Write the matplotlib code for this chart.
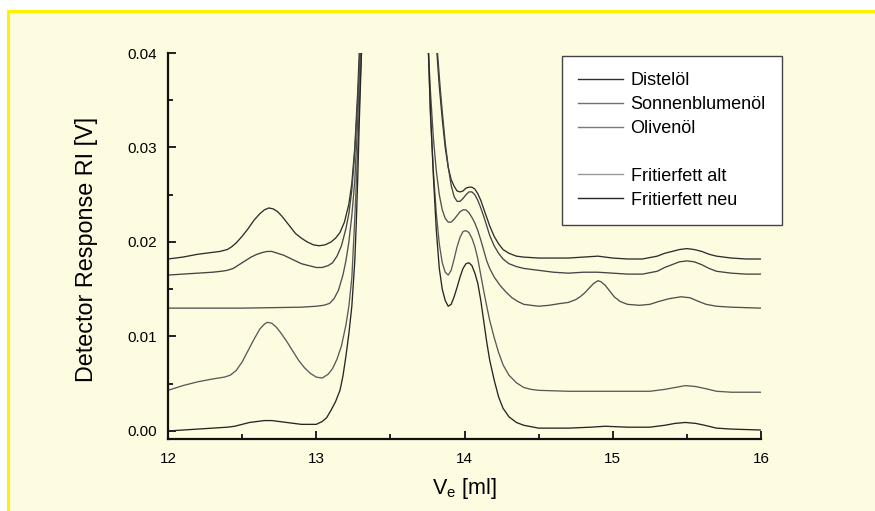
import matplotlib.pyplot as plt
from matplotlib.lines import Line2D
from matplotlib.patches import Rectangle
from matplotlib.ticker import MultipleLocator, FormatStrFormatter

plt.rcParams["font.family"] = ["Liberation Sans", "DejaVu Sans"]
plt.rcParams["mathtext.default"] = "regular"

# =============================================================================
# DATA
# =============================================================================

LABELS = ["Distelöl", "Sonnenblumenöl", "Olivenöl", "Fritierfett alt", "Fritierfett neu"]

x_distel = [12.0, 12.1, 12.2, 12.3, 12.35, 12.4, 12.43, 12.46, 12.5, 12.54, 12.58,
            12.62, 12.65, 12.68, 12.71, 12.74, 12.77, 12.8, 12.83, 12.86, 12.9, 12.94,
            12.98, 13.02, 13.06, 13.1, 13.13, 13.16, 13.19, 13.22, 13.24, 13.26, 13.28,
            13.29, 13.31,
            13.8, 13.814, 13.83, 13.85, 13.87, 13.89, 13.91, 13.93, 13.95, 13.97,
            13.99, 14.01, 14.03, 14.05, 14.07, 14.09, 14.11, 14.13, 14.15, 14.17,
            14.2, 14.23, 14.26, 14.3, 14.35, 14.4, 14.5, 14.6, 14.7, 14.8, 14.9,
            15.0, 15.1, 15.2, 15.3, 15.35, 15.4, 15.45, 15.5, 15.55, 15.6, 15.65,
            15.7, 15.8, 15.9, 16.0]
y_distel = [0.0182, 0.0184, 0.0187, 0.0189, 0.0190, 0.0192, 0.0195, 0.0199, 0.0206,
            0.0214, 0.0223, 0.0230, 0.0234, 0.0236, 0.0235, 0.0232, 0.0227, 0.0221,
            0.0215, 0.0209, 0.0204, 0.0200, 0.0197, 0.0196, 0.0197, 0.0200, 0.0204,
            0.0210, 0.0221, 0.0240, 0.0262, 0.0300, 0.0360, 0.0400, 0.0500,
            0.0500, 0.0400, 0.0365, 0.0330, 0.0300, 0.0279, 0.0266, 0.0259, 0.0254,
            0.0253, 0.0254, 0.0257, 0.0258, 0.0258, 0.0256, 0.0251, 0.0244, 0.0235,
            0.0226, 0.0217, 0.0206, 0.0198, 0.0192, 0.0188, 0.0185, 0.0184, 0.0183,
            0.0183, 0.0183, 0.0184, 0.0185, 0.0183, 0.0182, 0.0182, 0.0185, 0.0188,
            0.0190, 0.0192, 0.0193, 0.0192, 0.0190, 0.0187, 0.0185, 0.0183, 0.0182,
            0.0182]

x_sonne = [12.0, 12.1, 12.2, 12.3, 12.36, 12.4, 12.44, 12.48, 12.52, 12.56, 12.6,
           12.64, 12.67, 12.7, 12.74, 12.78, 12.82, 12.86, 12.9, 12.95, 13.0, 13.04,
           13.08, 13.11, 13.14, 13.17, 13.2, 13.22, 13.24, 13.26, 13.28, 13.295, 13.32,
           13.805, 13.818, 13.835, 13.85, 13.87, 13.89, 13.91, 13.93, 13.95, 13.97,
           13.99, 14.01, 14.03, 14.05, 14.07, 14.09, 14.11, 14.13, 14.15, 14.17,
           14.2, 14.23, 14.26, 14.3, 14.35, 14.4, 14.5, 14.6, 14.7, 14.8, 14.9,
           15.0, 15.1, 15.2, 15.3, 15.35, 15.4, 15.45, 15.5, 15.55, 15.6, 15.65,
           15.7, 15.8, 15.9, 16.0]
y_sonne = [0.0165, 0.0166, 0.0167, 0.0168, 0.0169, 0.0170, 0.0172, 0.0176, 0.0180,
           0.0184, 0.0187, 0.0189, 0.0190, 0.0190, 0.0188, 0.0186, 0.0183, 0.0180,
           0.0177, 0.0175, 0.0173, 0.0173, 0.0175, 0.0178, 0.0185, 0.0196, 0.0214,
           0.0230, 0.0255, 0.0295, 0.0350, 0.0400, 0.0500,
           0.0500, 0.0400, 0.0365, 0.0338, 0.0305, 0.0280, 0.0260, 0.0248, 0.0243,
           0.0243, 0.0246, 0.0250, 0.0253, 0.0253, 0.0250, 0.0244, 0.0236, 0.0227,
           0.0217, 0.0207, 0.0196, 0.0188, 0.0182, 0.0177, 0.0174, 0.0172, 0.0170,
           0.0168, 0.0167, 0.0168, 0.0168, 0.0167, 0.0166, 0.0166, 0.0169, 0.0173,
           0.0176, 0.0179, 0.0180, 0.0179, 0.0176, 0.0172, 0.0169, 0.0167, 0.0166,
           0.0166]

x_oliven = [12.0, 12.5, 12.9, 13.0, 13.05, 13.09, 13.12, 13.15, 13.18, 13.2, 13.22,
            13.24, 13.26, 13.28, 13.29, 13.3, 13.32,
            13.74, 13.757, 13.77, 13.79, 13.81, 13.83, 13.85, 13.87, 13.89, 13.91,
            13.93, 13.95, 13.97, 13.99, 14.01, 14.03, 14.05, 14.07, 14.09, 14.11,
            14.13, 14.15, 14.17, 14.2, 14.24, 14.28, 14.32, 14.36, 14.4, 14.45, 14.5,
            14.57, 14.65, 14.7, 14.75, 14.78, 14.81, 14.84, 14.87, 14.9, 14.92, 14.95,
            14.98, 15.01, 15.05, 15.1, 15.18, 15.25, 15.31, 15.38, 15.46, 15.52,
            15.58, 15.63, 15.7, 15.8, 16.0]
y_oliven = [0.0130, 0.0130, 0.0131, 0.0132, 0.0133, 0.0135, 0.0140, 0.0149, 0.0165,
            0.0180, 0.0200, 0.0228, 0.0265, 0.0330, 0.0370, 0.0410, 0.0500,
            0.0500, 0.0400, 0.0360, 0.0310, 0.0275, 0.0250, 0.0234, 0.0225, 0.0221,
            0.0221, 0.0224, 0.0228, 0.0232, 0.0234, 0.0234, 0.0231, 0.0226, 0.0220,
            0.0212, 0.0202, 0.0191, 0.0180, 0.0172, 0.0163, 0.0154, 0.0147, 0.0141,
            0.0137, 0.0134, 0.0133, 0.0132, 0.0133, 0.0135, 0.0136, 0.0139, 0.0142,
            0.0146, 0.0151, 0.0156, 0.0159, 0.0158, 0.0154, 0.0148, 0.0142, 0.0137,
            0.0134, 0.0133, 0.0134, 0.0137, 0.0140, 0.0142, 0.0141, 0.0137, 0.0134,
            0.0132, 0.0131, 0.0130]

x_alt = [12.0, 12.1, 12.2, 12.3, 12.38, 12.42, 12.46, 12.5, 12.54, 12.58, 12.62,
         12.65, 12.67, 12.7, 12.73, 12.76, 12.8, 12.84, 12.88, 12.92, 12.96, 13.0,
         13.04, 13.08, 13.11, 13.14, 13.17, 13.2, 13.22, 13.24, 13.26, 13.28, 13.295,
         13.305, 13.32,
         13.74, 13.757, 13.77, 13.79, 13.81, 13.83, 13.85, 13.87, 13.89, 13.91,
         13.93, 13.95, 13.97, 13.99, 14.01, 14.03, 14.05, 14.07, 14.09, 14.11,
         14.13, 14.15, 14.17, 14.2, 14.23, 14.26, 14.3, 14.35, 14.4, 14.45, 14.5,
         14.7, 15.0, 15.25, 15.35, 15.42, 15.49, 15.56, 15.62, 15.7, 15.8, 16.0]
y_alt = [0.0043, 0.0048, 0.0052, 0.0055, 0.0057, 0.0059, 0.0064, 0.0073, 0.0085,
         0.0097, 0.0108, 0.0113, 0.0115, 0.0114, 0.0110, 0.0104, 0.0095, 0.0085,
         0.0075, 0.0067, 0.0061, 0.0057, 0.0056, 0.0060, 0.0066, 0.0076, 0.0090,
         0.0112, 0.0132, 0.0162, 0.0225, 0.0300, 0.0365, 0.0400, 0.0500,
         0.0500, 0.0400, 0.0335, 0.0275, 0.0230, 0.0198, 0.0178, 0.0168, 0.0165,
         0.0170, 0.0182, 0.0195, 0.0205, 0.0211, 0.0212, 0.0210, 0.0204, 0.0195,
         0.0182, 0.0165, 0.0148, 0.0132, 0.0117, 0.0099, 0.0083, 0.0070, 0.0059,
         0.0051, 0.0046, 0.0044, 0.0043, 0.0042, 0.0042, 0.0042, 0.0044, 0.0046,
         0.0048, 0.0047, 0.0045, 0.0042, 0.0041, 0.0041]

x_neu = [12.0, 12.1, 12.2, 12.3, 12.4, 12.45, 12.5, 12.55, 12.6, 12.65, 12.7, 12.75,
         12.8, 12.85, 12.9, 12.95, 13.0, 13.04, 13.07, 13.1, 13.13, 13.16, 13.18,
         13.2, 13.22, 13.24, 13.26, 13.27, 13.28, 13.29, 13.305, 13.32,
         13.74, 13.757, 13.77, 13.79, 13.81, 13.83, 13.85, 13.87, 13.89, 13.91,
         13.93, 13.95, 13.97, 13.99, 14.01, 14.03, 14.05, 14.07, 14.09, 14.11,
         14.13, 14.15, 14.17, 14.2, 14.23, 14.26, 14.3, 14.35, 14.4, 14.5, 14.7,
         14.85, 14.95, 15.1, 15.25, 15.35, 15.42, 15.49, 15.56, 15.62, 15.7, 15.8,
         16.0]
y_neu = [0.0000, 0.0001, 0.0002, 0.0003, 0.0004, 0.0005, 0.0007, 0.0009, 0.0010,
         0.0011, 0.0011, 0.0010, 0.0009, 0.0008, 0.0007, 0.0007, 0.0007, 0.0010,
         0.0014, 0.0022, 0.0031, 0.0043, 0.0058, 0.0079, 0.0103, 0.0132, 0.0180,
         0.0220, 0.0268, 0.0326, 0.0400, 0.0500,
         0.0500, 0.0400, 0.0340, 0.0270, 0.0212, 0.0172, 0.0150, 0.0138, 0.0132,
         0.0134, 0.0142, 0.0152, 0.0163, 0.0172, 0.0177, 0.0178, 0.0175, 0.0167,
         0.0156, 0.0138, 0.0116, 0.0094, 0.0075, 0.0054, 0.0036, 0.0024, 0.0015,
         0.0009, 0.0006, 0.0003, 0.0003, 0.0004, 0.0005, 0.0004, 0.0004, 0.0006,
         0.0008, 0.0009, 0.0008, 0.0006, 0.0003, 0.0002, 0.0001]

SERIES = [(x_distel, y_distel), (x_sonne, y_sonne), (x_oliven, y_oliven),
          (x_alt, y_alt), (x_neu, y_neu)]
COLORS = ["#2e2e2e", "#444444", "#505050", "#5a5a5a", "#262626"]
LEGEND_COLORS = ["#2e2e2e", "#707070", "#7a7a7a", "#9a9a9a", "#262626"]

# =============================================================================
# PLOT
# =============================================================================

fig = plt.figure(figsize=(8.75, 5.11), dpi=100, facecolor="white")

# yellow framed cream panel behind everything
fig.patches.append(Rectangle((7 / 875, 0), 1, 1 - 10 / 511, transform=fig.transFigure,
                             facecolor="#fff200", edgecolor="none", zorder=-10))
fig.patches.append(Rectangle((10 / 875, 0), 1, 1 - 13 / 511, transform=fig.transFigure,
                             facecolor="#fefce0", edgecolor="none", zorder=-9))

ax = fig.add_axes([168 / 875, 1 - 439 / 511, 593 / 875, 386 / 511])
ax.set_facecolor("none")

for (xs, ys), c in zip(SERIES, COLORS):
    ax.plot(xs, ys, color=c, linewidth=0.95)

ax.set_xlim(12, 16)
ax.set_ylim(-0.00085, 0.04)

ax.spines["top"].set_visible(False)
ax.spines["right"].set_visible(False)
for s in ("left", "bottom"):
    ax.spines[s].set_linewidth(1.6)
    ax.spines[s].set_color("#111111")

ax.xaxis.set_major_locator(MultipleLocator(1))
ax.xaxis.set_minor_locator(MultipleLocator(0.5))
ax.yaxis.set_major_locator(MultipleLocator(0.01))
ax.yaxis.set_minor_locator(MultipleLocator(0.005))
ax.yaxis.set_major_formatter(FormatStrFormatter("%.2f"))
ax.tick_params(which="major", direction="in", length=6, width=1.3, labelsize=11,
               color="#111111")
ax.tick_params(axis="y", which="major", pad=8)
ax.tick_params(axis="x", which="major", pad=9)
ax.tick_params(which="minor", direction="in", length=3.5, width=1.3, color="#111111")

ax.set_xlabel("V$_e$ [ml]", fontsize=15.5)
ax.set_ylabel("Detector Response RI [V]", fontsize=16.8)
ax.xaxis.set_label_coords(0.5, -0.095)
ax.yaxis.set_label_coords(-0.118, 0.49)

handles = []
for i, lab in enumerate(LABELS):
    if i == 3:
        handles.append(Line2D([], [], color="none", label=" "))
    handles.append(Line2D([], [], color=LEGEND_COLORS[i], linewidth=1.0, label=lab))

leg = ax.legend(handles=handles, loc="upper left",
                bbox_to_anchor=((562 - 168) / 593, 1 - (56 - 53) / 386),
                fontsize=13, frameon=True, fancybox=False, framealpha=1,
                handlelength=2.5, handletextpad=0.4, labelspacing=0.38,
                borderpad=0.9, borderaxespad=0)
leg.get_frame().set_edgecolor("#444444")
leg.get_frame().set_linewidth(1.0)

plt.savefig("out.png", dpi=100, facecolor=fig.get_facecolor())
